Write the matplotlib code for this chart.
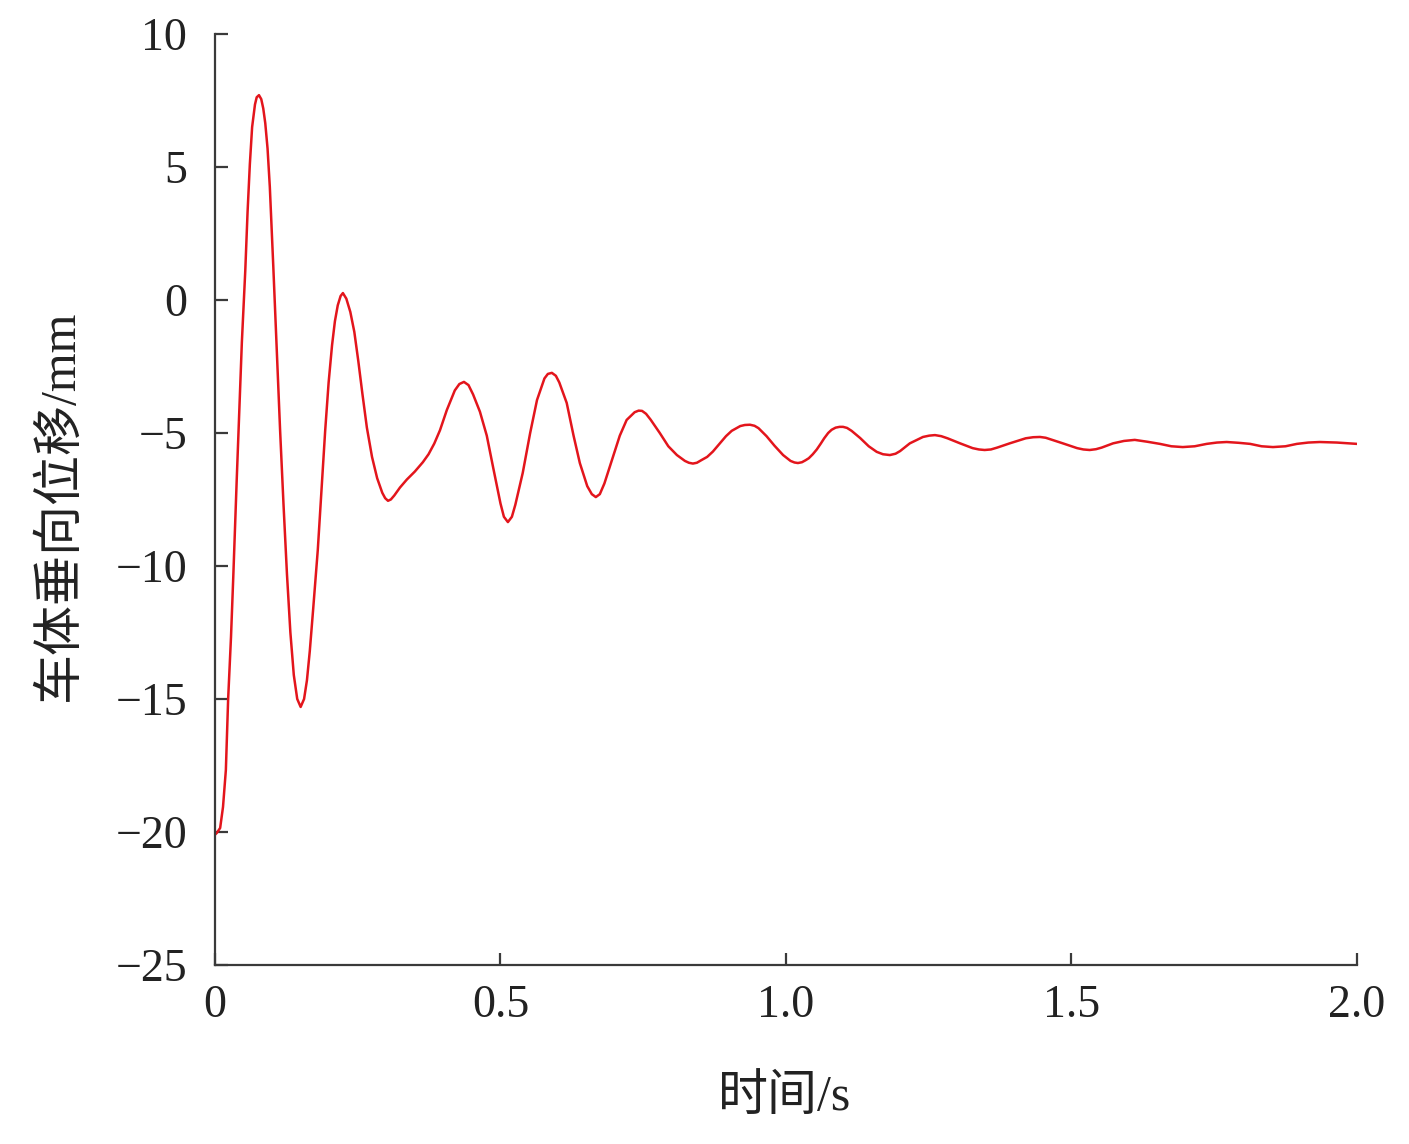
"""Vertical car-body displacement response over time."""

import matplotlib

matplotlib.use("Agg")
import matplotlib.pyplot as plt

# values
time_s = [
    0.000, 0.003, 0.009, 0.014, 0.019, 0.023, 0.028, 0.032, 0.038, 0.047,
    0.053, 0.057, 0.061, 0.065, 0.070, 0.073, 0.077, 0.081, 0.0845, 0.088,
    0.092, 0.096, 0.102, 0.108, 0.114, 0.120, 0.126, 0.132, 0.138, 0.144,
    0.150, 0.156, 0.161, 0.166, 0.172, 0.180, 0.187, 0.193, 0.199, 0.205,
    0.210, 0.215, 0.220, 0.224, 0.230, 0.237, 0.244, 0.251, 0.258, 0.266,
    0.275, 0.284, 0.293, 0.298, 0.303, 0.308, 0.314, 0.324, 0.336, 0.350,
    0.364, 0.374, 0.384, 0.394, 0.406, 0.420, 0.428, 0.436, 0.444, 0.452,
    0.464, 0.476, 0.487, 0.500, 0.506, 0.513, 0.520, 0.526, 0.539, 0.552,
    0.564, 0.577, 0.583, 0.590, 0.597, 0.603, 0.616, 0.628, 0.639, 0.652,
    0.660, 0.667, 0.674, 0.682, 0.697, 0.709, 0.721, 0.735, 0.742, 0.748,
    0.755, 0.763, 0.779, 0.794, 0.809, 0.823, 0.830, 0.837, 0.844, 0.852,
    0.862, 0.872, 0.884, 0.895, 0.905, 0.920, 0.928, 0.937, 0.945, 0.952,
    0.966, 0.980, 0.995, 1.008, 1.015, 1.021, 1.028, 1.034, 1.040, 1.047,
    1.054, 1.061, 1.067, 1.074, 1.080, 1.087, 1.094, 1.100, 1.107, 1.115,
    1.130, 1.145, 1.159, 1.170, 1.182, 1.192, 1.200, 1.217, 1.240, 1.251,
    1.261, 1.272, 1.283, 1.305, 1.327, 1.338, 1.348, 1.359, 1.370, 1.392,
    1.420, 1.433, 1.445, 1.455, 1.465, 1.485, 1.510, 1.521, 1.532, 1.543,
    1.553, 1.573, 1.592, 1.611, 1.633, 1.655, 1.675, 1.695, 1.716, 1.737,
    1.755, 1.772, 1.793, 1.813, 1.833, 1.853, 1.875, 1.895, 1.915, 1.935,
    1.965, 2.000,
]
displacement_mm = [
    -20.10, -20.04, -19.85, -19.06, -17.67, -15.00, -12.67, -10.40, -6.77, -1.60,
    1.10, 3.30, 5.10, 6.50, 7.35, 7.62, 7.70, 7.55, 7.20, 6.65,
    5.70, 4.25, 1.30, -1.80, -4.90, -7.70, -10.30, -12.50, -14.10, -15.00,
    -15.30, -15.00, -14.30, -13.20, -11.60, -9.40, -7.00, -4.90, -3.10, -1.70,
    -0.80, -0.20, 0.15, 0.26, 0.05, -0.45, -1.20, -2.30, -3.50, -4.80,
    -5.90, -6.70, -7.25, -7.45, -7.55, -7.50, -7.35, -7.05, -6.75, -6.45,
    -6.10, -5.80, -5.40, -4.90, -4.14, -3.40, -3.16, -3.08, -3.20, -3.55,
    -4.20, -5.10, -6.28, -7.65, -8.15, -8.35, -8.15, -7.70, -6.50, -5.00,
    -3.76, -2.95, -2.78, -2.74, -2.85, -3.10, -3.87, -5.10, -6.13, -7.00,
    -7.30, -7.41, -7.30, -6.90, -5.90, -5.10, -4.51, -4.22, -4.16, -4.17,
    -4.28, -4.50, -5.00, -5.50, -5.83, -6.05, -6.12, -6.15, -6.12, -6.02,
    -5.90, -5.70, -5.40, -5.12, -4.92, -4.74, -4.70, -4.69, -4.73, -4.82,
    -5.12, -5.48, -5.83, -6.05, -6.11, -6.13, -6.10, -6.03, -5.95, -5.80,
    -5.62, -5.40, -5.20, -5.00, -4.88, -4.80, -4.77, -4.77, -4.81, -4.92,
    -5.19, -5.50, -5.71, -5.80, -5.83, -5.78, -5.68, -5.39, -5.15, -5.10,
    -5.08, -5.12, -5.20, -5.39, -5.57, -5.62, -5.64, -5.62, -5.55, -5.39,
    -5.20, -5.16, -5.15, -5.18, -5.25, -5.39, -5.57, -5.62, -5.64, -5.61,
    -5.55, -5.39, -5.30, -5.26, -5.33, -5.41, -5.50, -5.53, -5.50, -5.41,
    -5.36, -5.34, -5.37, -5.41, -5.50, -5.53, -5.50, -5.41, -5.36, -5.34,
    -5.36, -5.41,
]

x_ticks = [0, 0.5, 1.0, 1.5, 2.0]
x_tick_labels = ["0", "0.5", "1.0", "1.5", "2.0"]
y_ticks = [-25, -20, -15, -10, -5, 0, 5, 10]

FONT = ["Liberation Serif", "Noto Sans CJK SC", "DejaVu Sans"]
plt.rcParams["font.family"] = FONT
plt.rcParams["axes.unicode_minus"] = True

fig = plt.figure(figsize=(14.09, 11.44), dpi=100)
ax = fig.add_axes([0.1526, 0.1565, 0.8104, 0.8138])

ax.plot(time_s, displacement_mm, color="#e3151c", linewidth=1.8)

ax.set_xlim(0, 2.0)
ax.set_ylim(-25, 10)
ax.set_xticks(x_ticks)
ax.set_xticklabels(x_tick_labels)
ax.set_yticks(y_ticks)

for side in ("top", "right"):
    ax.spines[side].set_visible(False)
for side in ("left", "bottom"):
    ax.spines[side].set_color("#3a3a3a")
    ax.spines[side].set_linewidth(1.6)

ax.tick_params(direction="in", length=9, width=1.6, color="#3a3a3a",
               labelsize=33, labelcolor="#222222")
ax.tick_params(axis="y", pad=20)
ax.tick_params(axis="x", pad=14)

ax.set_xlabel("时间/s", fontsize=36, color="#222222")
ax.set_ylabel("车体垂向位移/mm", fontsize=36, color="#222222")
ax.xaxis.set_label_coords(0.499, -0.118)
ax.yaxis.set_label_coords(-0.115, 0.494)

fig.savefig("out.png", dpi=100, facecolor="white")
